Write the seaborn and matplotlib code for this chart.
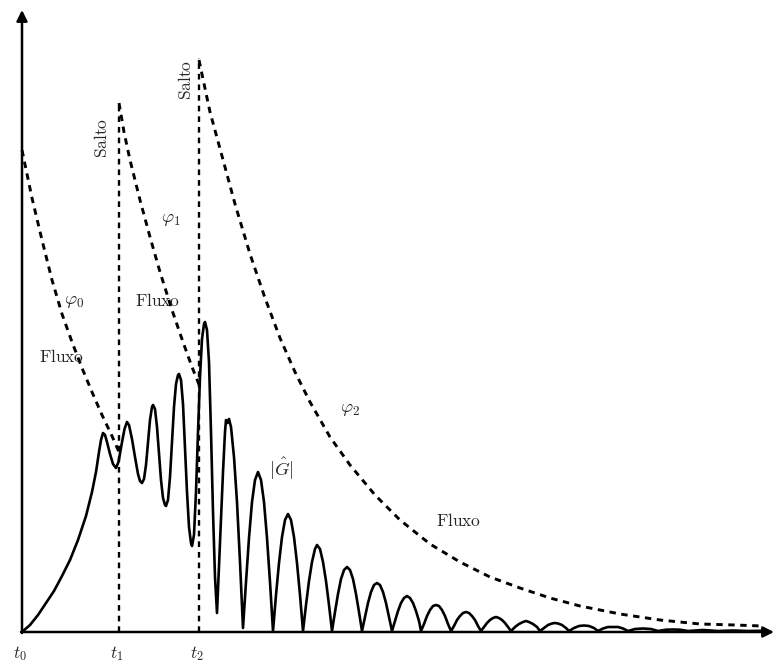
import numpy as np
import pandas as pd
import matplotlib
matplotlib.use("Agg")
import matplotlib.pyplot as plt
import seaborn as sns

sns.set_style("white")
plt.rcParams['mathtext.fontset'] = 'cm'
plt.rcParams['font.family'] = ['DejaVu Serif']

#----------------------------------
# data
#----------------------------------
# |G| curve
g_t = [0, 8, 16, 24, 32, 40, 48, 56, 64, 70, 74, 77, 79, 81,
       83, 85, 88, 91, 94,
       96.5, 99.5, 102.5, 105,
       107, 110, 113, 116, 118, 120,
       122, 124, 126, 128, 130, 131,
       133, 135, 137, 139, 141, 143, 144,
       146, 148, 150, 152, 154, 156, 157,
       159, 161, 163, 165, 167, 169, 170,
       172, 174, 176, 178, 180, 182, 183,
       185, 187, 189, 191, 193, 195,
       198, 201, 203, 204, 205.5, 207, 209, 212, 215, 218, 221,
       224, 227, 230, 233, 236, 239, 242, 245, 248, 251,
       254, 257, 260, 263, 266, 269, 272, 275, 278, 281,
       284, 287, 290, 293, 295, 298, 301, 304, 307, 310,
       313, 316, 319, 322, 325, 328, 331, 334, 337, 340,
       343, 346, 349, 352, 355, 358, 361, 364, 367, 370,
       373, 376, 379, 382, 385, 388, 391, 394, 397, 399,
       402, 405, 408, 411, 414, 417, 420, 423, 426, 429,
       432, 435, 438, 441, 444, 447, 450, 453, 456, 459,
       462, 465, 468, 471, 474, 477, 480, 483, 486, 489,
       493, 497, 501, 504, 507, 511, 515, 518,
       522, 526, 530, 533, 536, 540, 544, 547,
       552, 557, 562, 567, 572, 576,
       581, 586, 591, 596, 601, 606,
       613, 621, 629, 636,
       644, 651, 658, 666,
       681, 696, 711, 726, 740]
g_val = [0, 7, 17, 29, 41, 56, 72, 92, 116, 140, 160, 180, 192, 199,
         197, 190, 178, 168, 164,
         170, 187, 203, 210,
         207, 193, 175, 158, 151, 149,
         153, 167, 190, 212, 225, 227,
         223, 205, 178, 152, 134, 127, 126,
         132, 155, 190, 225, 248, 257, 258,
         252, 228, 185, 140, 105, 89, 86,
         97, 140, 200, 255, 293, 308, 310,
         302, 270, 200, 120, 55, 19,
         90, 160, 200, 212, 209, 213, 205, 175, 130, 70, 4,
         50, 94, 130, 152, 160, 152, 130, 94, 50, 1,
         37, 69, 95, 112, 118, 112, 95, 69, 37, 1,
         27, 51, 70, 83, 87, 83, 70, 51, 27, 1,
         20, 38, 53, 62, 65, 62, 53, 38, 20, 1,
         15, 29, 40, 47, 49, 47, 40, 29, 15, 1,
         11, 21, 29, 34, 36, 34, 29, 21, 11, 1,
         8, 16, 22, 26, 27, 26, 22, 16, 8, 1,
         6, 12, 16, 19, 20, 19, 16, 12, 6, 1,
         5, 9, 12, 14, 15, 14, 12, 9, 5, 1,
         5, 8, 10, 11, 10, 8, 5, 1,
         4, 7, 8.5, 9, 8.5, 7, 4, 1,
         4, 6, 6.5, 6, 4, 1,
         3.5, 5, 5, 5, 3.5, 1,
         3, 3.5, 3, 1,
         2.3, 2.5, 2.3, 1,
         2, 1, 1.5, 1, 1.2]

# phi_0, phi_1, phi_2 (dashed)
phi0_t = [0, 10, 20, 30, 40, 50, 60, 70, 80, 90, 97]
phi0_val = [482, 434, 392, 352, 318, 290, 264, 240, 217, 196, 180]
phi1_t = [97, 102, 108, 118, 128, 138, 150, 161, 170, 178]
phi1_val = [529, 500, 472, 432, 395, 360, 322, 290, 265, 245]
phi2_t = [177, 188, 200, 213, 228, 243, 258, 273, 288, 308, 328, 353,
          378, 408, 438, 468, 498, 528, 558, 598, 638, 678, 713, 740]
phi2_val = [572, 520, 476, 428, 378, 334, 294, 260, 230, 195, 167, 137,
            112, 88, 70, 55, 44, 34, 26, 18, 12, 8, 7, 6]

# jumps (Salto) and tick labels
jump_t = [97, 177]
jump_top = [529, 574]
tick_t = [0, 97, 177]
tick_labels = [r'$t_0$', r'$t_1$', r'$t_2$']

#----------------------------------
# plot
#----------------------------------
fig = plt.figure(figsize=(7.84, 6.66), dpi=100)
ax = fig.add_axes([0, 0, 1, 1])
ax.set_xlim(-22, 762)
ax.set_ylim(-34, 632)
ax.axis('off')

lw_dash = 2.1
dash = (2.2, 1.9)

sns.lineplot(x=g_t, y=g_val, ax=ax, color='k', lw=1.9, sort=False, estimator=None)
for tt, vv in [(phi0_t, phi0_val), (phi1_t, phi1_val), (phi2_t, phi2_val)]:
    sns.lineplot(x=tt, y=vv, ax=ax, color='k', lw=lw_dash, sort=False,
                 estimator=None, dashes=False, linestyle=(0, dash))

for tj, top in zip(jump_t, jump_top):
    ax.plot([tj, tj], [0, top], color='k', lw=1.7, linestyle=(0, (2.4, 2.1)))

# axes with arrows
ax.annotate('', xy=(752, 0), xytext=(-1, 0),
            arrowprops=dict(arrowstyle='-|>', lw=1.8, color='k', mutation_scale=16,
                            shrinkA=0, shrinkB=0))
ax.annotate('', xy=(0, 622), xytext=(0, -1),
            arrowprops=dict(arrowstyle='-|>', lw=1.8, color='k', mutation_scale=16,
                            shrinkA=0, shrinkB=0))

fs = 12.5
for tt, lab in zip(tick_t, tick_labels):
    ax.text(tt - 2, -22, lab, ha='center', va='center', fontsize=fs)

ax.text(81, 494, r'$\mathrm{Salto}$', rotation=90, ha='center', va='center', fontsize=fs)
ax.text(165, 552, r'$\mathrm{Salto}$', rotation=90, ha='center', va='center', fontsize=fs)
ax.text(52, 331, r'$\varphi_0$', ha='center', va='center', fontsize=fs + 1)
ax.text(40, 275, r'$\mathrm{Fluxo}$', ha='center', va='center', fontsize=fs)
ax.text(149, 413, r'$\varphi_1$', ha='center', va='center', fontsize=fs + 1)
ax.text(136, 331, r'$\mathrm{Fluxo}$', ha='center', va='center', fontsize=fs)
ax.text(328, 223, r'$\varphi_2$', ha='center', va='center', fontsize=fs + 1)
ax.text(259, 163, r'$|\hat{G}|$', ha='center', va='center', fontsize=fs + 1)
ax.text(437, 110, r'$\mathrm{Fluxo}$', ha='center', va='center', fontsize=fs)

fig.savefig("out.png", dpi=100)
